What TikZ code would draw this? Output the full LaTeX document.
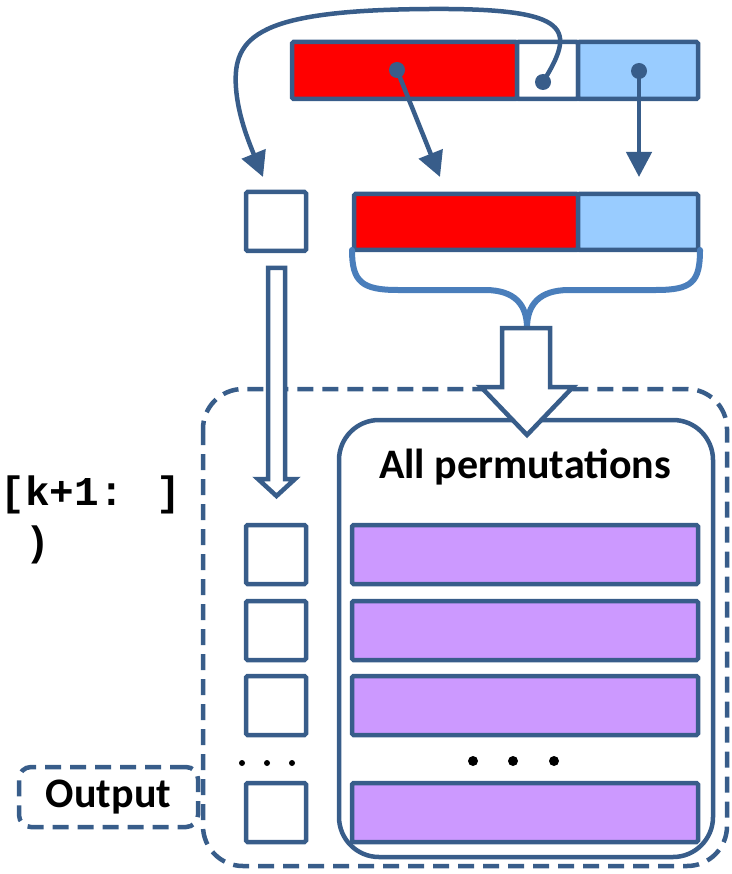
\documentclass[tikz,border=0pt]{standalone}
\usepackage{fontspec}
\setmainfont{Carlito}
\newfontfamily\monof{Liberation Mono}
\usetikzlibrary{arrows.meta}
\definecolor{dk}{HTML}{385D8A}
\definecolor{brc}{HTML}{4A7EBB}
\definecolor{lb}{HTML}{99CCFF}
\definecolor{pu}{HTML}{CC99FF}
\tikzset{
  cell/.style={draw=dk, line width=4.5pt, rounded corners=1.5pt, inner sep=0pt, minimum height=57pt},
  dotnode/.style={circle, fill=dk, inner sep=0pt, minimum size=16pt},
  ptr/.style={draw=dk, line width=4.5pt, -{Triangle[length=25pt,width=25pt]}},
  blockarrow/.style={draw=dk, fill=white, line width=4.5pt, line join=miter},
  dashbox/.style={draw=dk, line width=4.5pt, dash pattern=on 16pt off 9pt},
  bigtext/.style={font=\fontsize{42}{50}\selectfont\bfseries, inner sep=0pt},
  codetext/.style={font=\monof\fontsize{41}{50}\selectfont\bfseries, inner sep=0pt, anchor=base west},
  blackdot/.style={circle, fill=black, inner sep=0pt}
}
\begin{document}
\begin{tikzpicture}[x=1pt,y=-1pt]
\useasboundingbox (0,0) rectangle (731,874);

% top bar
\node[cell, fill=red, minimum width=225pt] (tr) at (404.5,70.5) {};
\node[cell, fill=white, minimum width=61pt] (tw) at (547.5,70.5) {};
\node[cell, fill=lb, minimum width=120pt] (tb) at (638,70.5) {};

% middle bar and small box
\node[cell, fill=red, minimum width=224pt, minimum height=56pt] (mr) at (466,222) {};
\node[cell, fill=lb, minimum width=120pt, minimum height=56pt] (mb) at (638,222) {};
\node[cell, fill=white, minimum width=60pt, minimum height=59pt] (sb) at (276,221.5) {};

% dots in top bar
\node[dotnode] (rd) at (397,70) {};
\node[dotnode] (wd) at (543,82) {};
\node[dotnode] (bd) at (639,71) {};

\coordinate (rt) at (440,177);
\coordinate (bt) at (639,177);
\coordinate (st) at (263,177);

\draw[ptr] (rd.center) -- (rt);
\draw[ptr] (bd.center) -- (bt);
\draw[ptr] (wd.center) .. controls (575,30) and (575,8) .. (430,9)
   .. controls (260,10) and (232,35) .. (236,88)
   .. controls (238,115) and (248,140) .. (st);

% brace
\coordinate (bl) at (352,250);
\coordinate (br) at (700,250);
\coordinate (bm) at (527,328);
\draw[brc, line width=6pt, line cap=round]
  (bl) .. controls (352,282) and (362,290) .. (398,290) -- (485,290)
  .. controls (515,290) and (527,305) .. (bm)
  .. controls (527,305) and (539,290) .. (569,290) -- (656,290)
  .. controls (692,290) and (700,282) .. (br);

% outer dashed and inner box
\draw[dashbox, rounded corners=40pt] (203,389) rectangle (727,866);
\draw[draw=dk, line width=4.5pt, rounded corners=40pt] (339,420) rectangle (713,857);

\node[bigtext] (perm) at (525,467) {All permutations};

% rows
\foreach \i/\y in {1/554.5, 2/630.5, 3/705.5, 4/812.5}{
  \node[cell, fill=white, minimum width=60pt, minimum height=59pt] (s\i) at (276,\y) {};
  \node[cell, fill=pu, minimum width=346pt, minimum height=59pt] (p\i) at (525,\y) {};
}

% dots
\foreach \x in {242,267,292}{\node[blackdot, minimum size=6pt] at (\x,763) {};}
\foreach \x in {473,513,554}{\node[blackdot, minimum size=10pt] at (\x,761) {};}

% block arrows
\draw[blockarrow] (502,328) -- (550,328) -- (550,387) -- (573,387) -- (bm |- 0,435) -- (481,387) -- (502,387) -- cycle;
\draw[blockarrow] (268,268) -- (285,268) -- (285,479) -- (295,479) -- (276.5,496) -- (258,479) -- (268,479) -- cycle;

% output box
\node[dashbox, rounded corners=12pt, minimum width=179pt, minimum height=60pt, inner sep=0pt] (out) at (108.5,797) {};
\node[bigtext] at (out.center) {Output};

% code text
\node[codetext] (c1) at (0.5,505) {[k+1: ]};
\node[codetext] (c2) at (25.1,555) {)};
\end{tikzpicture}
\end{document}
